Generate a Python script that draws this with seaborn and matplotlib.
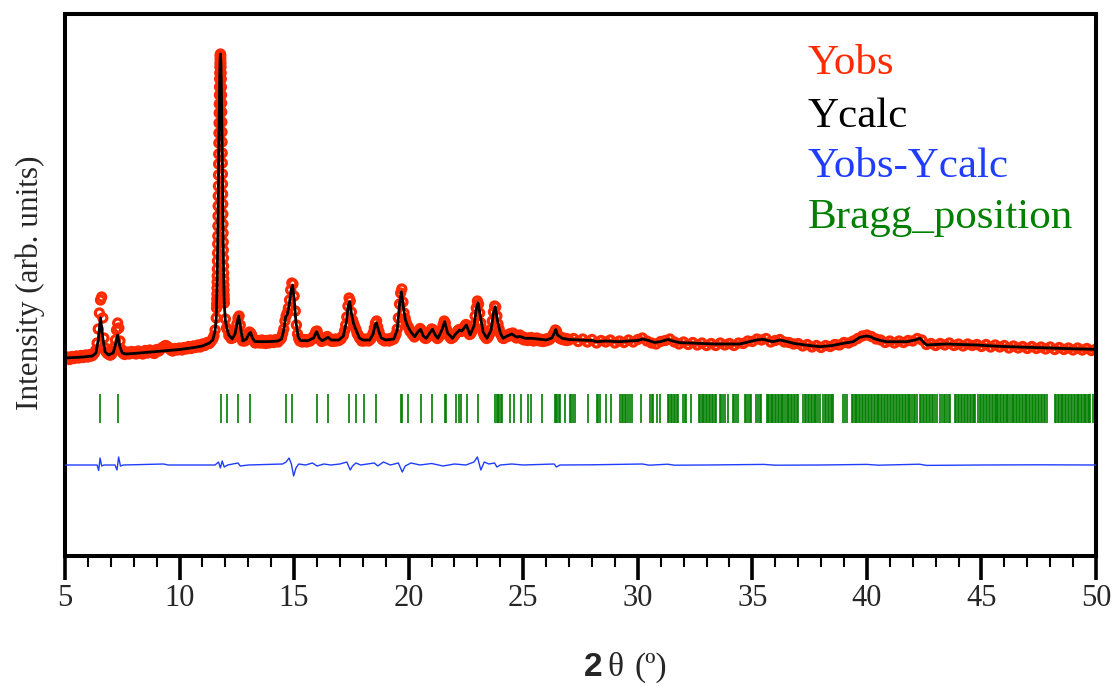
import numpy as np
import matplotlib
matplotlib.use("Agg")
import matplotlib.pyplot as plt
from matplotlib.ticker import MultipleLocator
import seaborn as sns

# ---------------------------------------------------------------- data
# Observed pattern, sampled on four 2-theta segments (step in degrees)
obs_tt_a = np.round(np.arange(5.0, 11.6001, 0.05), 3)
obs_y_a = [
    990, 1005, 1010, 995, 985, 1000, 1015, 1000, 995, 1010,
    1020, 1005, 1000, 1015, 1025, 1010, 1005, 1020, 1030, 1015,
    1010, 1025, 1035, 1020, 1025, 1040, 1055, 1080, 1150, 1290,
    1450, 1580, 1610, 1400, 1200, 1100, 1060, 1045, 1040, 1030,
    1030, 1045, 1070, 1110, 1180, 1280, 1350, 1300, 1170, 1090,
    1055, 1045, 1035, 1045, 1060, 1050, 1040, 1055, 1065, 1050,
    1050, 1060, 1040, 1055, 1070, 1060, 1055, 1045, 1040, 1060,
    1075, 1065, 1050, 1070, 1080, 1070, 1060, 1050, 1045, 1070,
    1085, 1075, 1070, 1085, 1095, 1105, 1110, 1120, 1125, 1115,
    1110, 1095, 1085, 1075, 1070, 1085, 1095, 1090, 1080, 1090,
    1100, 1090, 1080, 1095, 1105, 1100, 1090, 1105, 1115, 1105,
    1095, 1110, 1120, 1115, 1105, 1120, 1130, 1120, 1110, 1125,
    1140, 1135, 1125, 1140, 1155, 1150, 1145, 1160, 1175, 1190,
    1220, 1280, 1400,
]
obs_tt_b = np.round(np.arange(11.615, 11.9551, 0.005), 3)
obs_y_b = [
    1500, 1540, 1590, 1640, 1700, 1760, 1820, 1890, 1970, 2050,
    2140, 2220, 2320, 2420, 2520, 2620, 2720, 2830, 2940, 3040,
    3150, 3250, 3350, 3450, 3540, 3630, 3710, 3790, 3850, 3910,
    3950, 3990, 4020, 4030, 4040, 4030, 4020, 3990, 3950, 3910,
    3850, 3790, 3710, 3630, 3550, 3460, 3360, 3260, 3160, 3050,
    2950, 2840, 2740, 2640, 2540, 2440, 2340, 2250, 2160, 2080,
    2000, 1920, 1850, 1790, 1730, 1680, 1630, 1590, 1550,
]
obs_tt_c = np.round(np.arange(12.0, 27.0001, 0.05), 3)
obs_y_c = [
    1390, 1300, 1280, 1225, 1225, 1195, 1200, 1205, 1240, 1270,
    1340, 1400, 1420, 1330, 1240, 1170, 1185, 1170, 1200, 1195,
    1225, 1260, 1250, 1230, 1180, 1175, 1150, 1170, 1155, 1175,
    1150, 1165, 1180, 1150, 1170, 1145, 1175, 1160, 1150, 1180,
    1160, 1175, 1155, 1180, 1165, 1185, 1160, 1180, 1185, 1200,
    1245, 1290, 1370, 1420, 1450, 1500, 1580, 1680, 1750, 1740,
    1620, 1470, 1330, 1240, 1195, 1170, 1185, 1160, 1180, 1165,
    1185, 1160, 1175, 1180, 1170, 1195, 1190, 1215, 1235, 1265,
    1270, 1230, 1200, 1185, 1165, 1180, 1175, 1200, 1195, 1215,
    1200, 1190, 1170, 1185, 1165, 1180, 1190, 1170, 1185, 1175,
    1195, 1190, 1215, 1225, 1270, 1330, 1410, 1520, 1600, 1570,
    1460, 1380, 1345, 1310, 1285, 1245, 1230, 1200, 1195, 1170,
    1185, 1170, 1190, 1175, 1185, 1170, 1195, 1190, 1220, 1250,
    1300, 1350, 1370, 1310, 1265, 1225, 1205, 1185, 1180, 1170,
    1190, 1175, 1185, 1170, 1195, 1180, 1200, 1190, 1215, 1240,
    1290, 1400, 1540, 1650, 1690, 1560, 1450, 1395, 1350, 1320,
    1305, 1270, 1265, 1240, 1230, 1210, 1225, 1240, 1265, 1275,
    1295, 1280, 1240, 1220, 1200, 1195, 1210, 1215, 1250, 1265,
    1290, 1285, 1255, 1230, 1210, 1195, 1205, 1225, 1250, 1285,
    1330, 1370, 1350, 1290, 1250, 1225, 1210, 1195, 1200, 1210,
    1225, 1245, 1255, 1275, 1285, 1275, 1265, 1285, 1300, 1320,
    1335, 1310, 1270, 1235, 1240, 1260, 1290, 1330, 1420, 1500,
    1570, 1540, 1450, 1350, 1290, 1255, 1225, 1210, 1195, 1205,
    1225, 1250, 1290, 1370, 1460, 1520, 1510, 1420, 1340, 1290,
    1245, 1225, 1200, 1195, 1210, 1225, 1215, 1235, 1220, 1245,
    1235, 1250, 1225, 1215, 1200, 1225, 1210, 1230, 1205, 1190,
    1210, 1180, 1200, 1185, 1175, 1200, 1180, 1205, 1190, 1170,
    1195, 1185, 1200, 1175, 1190, 1170, 1185, 1165, 1180, 1170,
    1190, 1175, 1195, 1185, 1200, 1210, 1235, 1250, 1280, 1270,
    1235, 1210, 1195, 1205, 1185, 1200, 1180, 1195, 1175, 1190,
    1180,
]
obs_tt_d = np.round(np.arange(27.2, 50.0001, 0.2), 3)
obs_y_d = [
    1195, 1165, 1190, 1160, 1185, 1150, 1175, 1160, 1180, 1150,
    1170, 1155, 1180, 1160, 1185, 1200, 1170, 1150, 1140, 1165,
    1175, 1190, 1160, 1140, 1160, 1135, 1155, 1130, 1150, 1125,
    1145, 1125, 1150, 1130, 1145, 1125, 1150, 1145, 1170, 1165,
    1190, 1180, 1195, 1160, 1175, 1185, 1160, 1155, 1140, 1145,
    1120, 1135, 1110, 1125, 1105, 1125, 1115, 1135, 1130, 1155,
    1150, 1170, 1195, 1220, 1230, 1215, 1190, 1180, 1155, 1170,
    1150, 1170, 1155, 1175, 1170, 1195, 1180, 1135, 1145, 1125,
    1145, 1130, 1150, 1125, 1140, 1120, 1140, 1125, 1135, 1115,
    1135, 1110, 1130, 1110, 1125, 1100, 1120, 1100, 1115, 1095,
    1115, 1095, 1110, 1090, 1110, 1085, 1105, 1085, 1100, 1080,
    1100, 1080, 1095, 1075, 1090,
]

# Calculated profile
calc_tt = [
    5.0, 5.4, 5.8, 6.2, 6.35, 6.45, 6.55, 6.65, 6.75, 6.9, 7.1, 7.2, 7.3, 7.4,
    7.5, 7.65, 8.0, 8.5, 9.0, 9.5, 10.0, 10.5, 11.0, 11.3, 11.45, 11.55, 11.6,
    11.64, 11.67, 11.7, 11.73, 11.75, 11.77, 11.785, 11.8, 11.82, 11.84, 11.87,
    11.9, 11.93, 11.955, 12.0, 12.05, 12.15, 12.3, 12.42, 12.5, 12.58, 12.65,
    12.76, 12.92, 13.03, 13.1, 13.18, 13.28, 13.6, 14.0, 14.3, 14.45, 14.55,
    14.63, 14.71, 14.79, 14.86, 14.93, 15.0, 15.08, 15.18, 15.28, 15.6, 15.85,
    15.98, 16.1, 16.22, 16.36, 16.48, 16.62, 16.95, 17.15, 17.28, 17.36, 17.43,
    17.5, 17.6, 17.72, 17.85, 18.0, 18.3, 18.45, 18.53, 18.59, 18.68, 18.8,
    19.0, 19.35, 19.5, 19.6, 19.68, 19.76, 19.86, 19.97, 20.1, 20.26, 20.4,
    20.52, 20.64, 20.77, 20.92, 21.04, 21.16, 21.28, 21.45, 21.57, 21.7, 21.91,
    22.05, 22.22, 22.32, 22.45, 22.52, 22.68, 22.85, 22.95, 23.03, 23.12, 23.25,
    23.42, 23.6, 23.7, 23.78, 23.88, 24.0, 24.12, 24.3, 24.5, 24.7, 24.85, 25.1,
    25.35, 25.65, 26.0, 26.25, 26.36, 26.42, 26.5, 26.7, 27.0, 27.5, 28.0, 28.2,
    28.6, 29.0, 29.2, 29.6, 30.0, 30.22, 30.5, 30.74, 31.0, 31.32, 31.6, 31.85,
    32.3, 32.8, 33.3, 33.8, 34.45, 34.9, 35.18, 35.47, 35.9, 36.2, 36.5, 36.8,
    37.3, 37.95, 38.5, 38.97, 39.4, 39.69, 39.99, 40.2, 40.28, 40.6, 40.86,
    41.4, 41.73, 42.1, 42.32, 42.5, 42.61, 43.0, 43.48, 44.0, 44.79, 45.5,
    46.0, 46.97, 48.0, 49.0, 50.0,
]
calc_y = [
    1000, 1005, 1010, 1020, 1050, 1180, 1400, 1200, 1060, 1030, 1050, 1130, 1230, 1110,
    1050, 1040, 1045, 1055, 1065, 1075, 1085, 1100, 1120, 1150, 1180, 1270, 1390,
    1756, 2224, 2829, 3451, 3785, 3991, 4040, 3991, 3785, 3451, 2829,
    2224, 1756, 1520, 1380, 1310, 1230, 1190, 1240, 1330, 1420, 1320,
    1170, 1190, 1240, 1255, 1200, 1165, 1163, 1165, 1170, 1190, 1280,
    1410, 1440, 1540, 1670, 1730, 1600, 1360, 1210, 1175, 1173, 1200,
    1263, 1200, 1173, 1190, 1207, 1180, 1180, 1220, 1360, 1520, 1563,
    1450, 1340, 1270, 1200, 1180, 1180, 1240, 1330, 1353, 1280, 1200,
    1180, 1190, 1280, 1530, 1663, 1520, 1380, 1313, 1260, 1213, 1260,
    1287, 1220, 1197, 1250, 1287, 1230, 1197, 1280, 1363, 1250, 1197,
    1240, 1280, 1270, 1310, 1330, 1230, 1320, 1490, 1553, 1430, 1260,
    1197, 1280, 1450, 1513, 1370, 1250, 1197, 1220, 1240, 1210, 1215, 1197,
    1197, 1190, 1180, 1200, 1250, 1285, 1230, 1197, 1185, 1180, 1175, 1163,
    1170, 1165, 1163, 1170, 1175, 1190, 1173, 1155, 1165, 1185, 1165, 1153,
    1150, 1145, 1140, 1140, 1140, 1165, 1180, 1187, 1163, 1180, 1165, 1147,
    1130, 1113, 1125, 1147, 1163, 1207, 1220, 1210, 1197, 1175, 1163,
    1163, 1163, 1180, 1197, 1150, 1130, 1135, 1140, 1135, 1130, 1120,
    1115, 1107, 1100, 1092, 1087,
]

# Difference curve (Yobs - Ycalc), shifted below the pattern
diff_tt = [
    5.0, 6.4, 6.47, 6.53, 6.6, 6.7, 7.18, 7.27, 7.34, 7.42, 7.55, 9.3, 9.5,
    11.55, 11.7, 11.78, 11.86, 11.95, 12.1, 12.55, 12.65, 13.0, 14.5, 14.65,
    14.78, 14.88, 14.98, 15.08, 15.2, 15.5, 15.8, 16.0, 16.3, 16.6, 17.0, 17.3,
    17.45, 17.55, 17.7, 17.9, 18.5, 18.65, 18.9, 19.2, 19.55, 19.72, 19.85,
    20.1, 20.5, 21.0, 21.5, 22.0, 22.5, 22.85, 23.0, 23.15, 23.3, 23.5, 23.75,
    23.85, 24.0, 24.5, 25.0, 26.35, 26.45, 26.6, 28.0, 30.2, 30.5, 31.3, 31.6,
    33.0, 35.5, 36.0, 38.0, 40.0, 40.5, 42.3, 42.6, 45.0, 47.5, 50.0,
]
diff_y = [
    -70, -70, -125, 0, -80, -70, -70, -120, 10, -80, -70, -60, -70,
    -70, -40, -100, -30, -90, -70, -50, -80, -70, -60, -40,
    0, -60, -180, -100, -60, -70, -50, -80, -60, -70, -60, -40,
    -120, -80, -50, -70, -50, -80, -40, -70, -50, -140, -80,
    -50, -70, -55, -80, -60, -70, -40, 10, -120, -40, -60, -50,
    -90, -70, -60, -70, -60, -90, -70, -68, -60, -72, -62, -72,
    -70, -64, -72, -70, -64, -72, -62, -74, -70, -68, -70,
]

# Reflection positions
bragg_tt = [
    6.53, 7.30, 11.80, 12.09, 12.56, 13.08, 14.64, 14.90, 15.98, 16.46, 17.41,
    17.70, 18.06, 18.57, 19.66, 19.70, 19.95, 20.55, 21.02, 21.58, 21.62, 22.08,
    22.20, 22.27, 22.53, 23.02, 23.78, 23.84, 23.90, 23.96, 24.02, 24.08, 24.41,
    24.60, 24.92, 25.21, 25.36, 25.80, 26.38, 26.43, 26.49, 26.55, 26.60, 26.81,
    27.03, 27.10, 27.18, 27.25, 27.83, 28.20, 28.27, 28.34, 28.60, 28.85, 29.22,
    29.29, 29.36, 29.44, 29.50, 29.58, 29.65, 29.73, 30.16, 30.52, 30.60, 30.67,
    30.82, 30.96, 31.32, 31.38, 31.45, 31.50, 31.57, 31.63, 31.70, 31.76, 31.98,
    32.05, 32.12, 32.34, 32.66, 32.72, 32.79, 32.85, 32.90, 32.97, 33.03, 33.10,
    33.16, 33.22, 33.30, 33.36, 33.43, 33.58, 33.64, 33.71, 33.80, 33.94, 34.16,
    34.22, 34.30, 34.38, 34.67, 34.74, 34.82, 34.90, 34.96, 35.18, 35.25, 35.33,
    35.40, 35.62, 35.68, 35.73, 35.80, 35.86, 35.92, 35.99, 36.05, 36.10, 36.17,
    36.24, 36.30, 36.36, 36.43, 36.50, 36.55, 36.62, 36.68, 36.75, 36.81, 36.88,
    36.93, 37.00, 37.22, 37.28, 37.35, 37.41, 37.47, 37.55, 37.61, 37.68, 37.74,
    37.80, 37.88, 37.95, 38.09, 38.15, 38.22, 38.30, 38.36, 38.42, 38.48, 38.53,
    38.97, 39.04, 39.12, 39.33, 39.39, 39.46, 39.52, 39.58, 39.65, 39.71, 39.78,
    39.84, 39.90, 39.97, 40.03, 40.10, 40.16, 40.22, 40.29, 40.35, 40.42, 40.49,
    40.55, 40.62, 40.68, 40.74, 40.81, 40.87, 40.93, 41.00, 41.06, 41.12, 41.19,
    41.25, 41.32, 41.39, 41.46, 41.52, 41.58, 41.65, 41.71, 41.78, 41.84, 41.90,
    41.97, 42.04, 42.10, 42.17, 42.31, 42.37, 42.44, 42.50, 42.57, 42.63, 42.70,
    42.76, 42.83, 42.90, 42.97, 43.04, 43.21, 43.28, 43.35, 43.42, 43.50, 43.57,
    43.64, 43.85, 43.91, 43.98, 44.04, 44.11, 44.17, 44.24, 44.30, 44.37, 44.43,
    44.50, 44.56, 44.63, 44.68, 44.73, 44.86, 44.92, 44.99, 45.05, 45.12, 45.18,
    45.25, 45.31, 45.38, 45.44, 45.50, 45.57, 45.62, 45.66, 45.73, 45.80, 45.86,
    45.93, 46.00, 46.06, 46.12, 46.18, 46.24, 46.32, 46.38, 46.44, 46.51, 46.57,
    46.63, 46.70, 46.76, 46.82, 46.88, 46.95, 47.01, 47.07, 47.14, 47.20, 47.26,
    47.33, 47.39, 47.45, 47.52, 47.58, 47.64, 47.71, 47.77, 47.85, 48.21, 48.27,
    48.33, 48.40, 48.46, 48.52, 48.58, 48.65, 48.71, 48.77, 48.83, 48.90, 48.96,
    49.02, 49.08, 49.15, 49.21, 49.27, 49.33, 49.40, 49.46, 49.52, 49.58, 49.65,
    49.71, 49.74, 49.88,
]

x_ticks = [5, 10, 15, 20, 25, 30, 35, 40, 45, 50]
legend_labels = ["Yobs", "Ycalc", "Yobs-Ycalc", "Bragg_position"]

# ---------------------------------------------------------------- style
RED = "#FF2A00"
BLUE = "#1F3DFF"
GREEN = "#007F00"

sns.set_theme(style="white")
plt.rcParams["font.family"] = ["Liberation Serif", "DejaVu Serif"]

W, H = 1113, 686
fig = plt.figure(figsize=(W / 100, H / 100), dpi=100, facecolor="white")
L, R, T, B = 65, 1096, 14, 556
ax = fig.add_axes([L / W, 1 - B / H, (R - L) / W, (B - T) / H])

obs_tt = np.concatenate([obs_tt_a, obs_tt_b, obs_tt_c, obs_tt_d])
obs_y = np.concatenate([obs_y_a, obs_y_b, obs_y_c, obs_y_d])

sns.scatterplot(x=obs_tt, y=obs_y, ax=ax, marker="o", s=34,
                color=RED, facecolors="none", edgecolor=RED,
                linewidth=2.3, zorder=2, legend=False)
sns.lineplot(x=calc_tt, y=calc_y, ax=ax, color="black", linewidth=2.0,
             estimator=None, zorder=3, legend=False)
sns.lineplot(x=diff_tt, y=diff_y, ax=ax, color=BLUE, linewidth=1.0,
             estimator=None, zorder=3, legend=False)
ax.vlines(bragg_tt, 350, 640, colors=GREEN, linewidth=1.2, zorder=2)

ax.set_xlim(5, 50)
ax.set_ylim(-980, 4440)
ax.set_xticks(x_ticks)
ax.set_xticklabels([str(t) for t in x_ticks])
ax.xaxis.set_minor_locator(MultipleLocator(1))
ax.set_yticks([])
ax.tick_params(axis="x", which="major", direction="out", length=17,
               width=2.6, color="black", labelsize=22, pad=3,
               bottom=True)
ax.tick_params(axis="x", which="minor", direction="out", length=8,
               width=1.5, color="black", bottom=True)
for sp in ax.spines.values():
    sp.set_visible(True)
    sp.set_color("black")
    sp.set_linewidth(2.9)
ax.set_xlabel("")
ax.set_ylabel("")

# axis titles
fig.text(30 / W, 1 - 283 / H, "Intensity (arb. units)", rotation=90,
         ha="center", va="center", fontsize=22.5)
base_y = 1 - 676 / H
fig.text(584 / W, base_y, "2", fontsize=24, fontweight="bold",
         family=["Liberation Sans", "DejaVu Sans"], ha="left", va="baseline")
fig.text(607 / W, base_y, "θ", fontsize=24, ha="left", va="baseline")
fig.text(635 / W, base_y, "(º)", fontsize=24, ha="left", va="baseline")

# legend-style labels
for lab, col, yb in zip(legend_labels, [RED, "black", BLUE, GREEN],
                        [74, 127, 177, 228]):
    fig.text(808 / W, 1 - yb / H, lab, color=col, fontsize=31,
             ha="left", va="baseline")

fig.savefig("out.png", dpi=100, facecolor="white")
